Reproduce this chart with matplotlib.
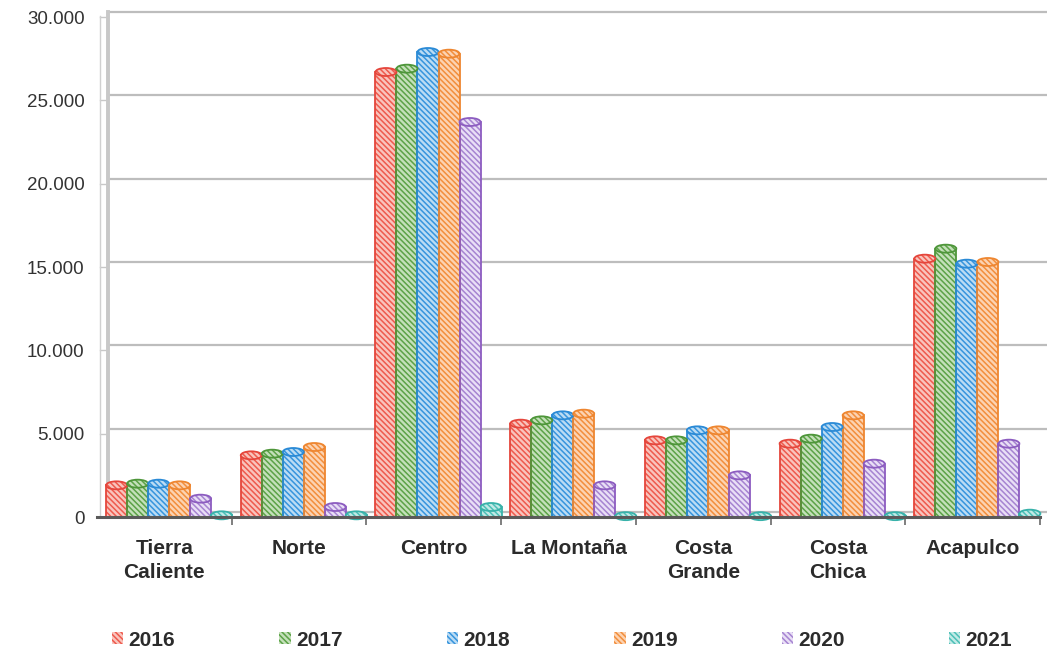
import matplotlib
matplotlib.use('Agg')
import matplotlib.pyplot as plt
import matplotlib.transforms as mtransforms
from matplotlib.patches import Ellipse, Patch
from matplotlib.ticker import FuncFormatter

plt.rcParams['font.family'] = ['Liberation Sans', 'DejaVu Sans']
plt.rcParams['hatch.linewidth'] = 1.1

# ── Data ─────────────────────────────────────────────────────────────────────
REGIONS = ['Tierra\nCaliente', 'Norte', 'Centro', 'La Montaña',
           'Costa\nGrande', 'Costa\nChica', 'Acapulco']
YEARS = ['2016', '2017', '2018', '2019', '2020', '2021']

V2016 = [1900, 3700, 26700, 5600, 4600, 4400, 15500]
V2017 = [2000, 3800, 26900, 5800, 4600, 4700, 16100]
V2018 = [2000, 3900, 27900, 6100, 5200, 5400, 15200]
V2019 = [1900, 4200, 27800, 6200, 5200, 6100, 15300]
V2020 = [1100, 600, 23700, 1900, 2500, 3200, 4400]
V2021 = [100, 100, 600, 50, 50, 50, 200]
SERIES = [V2016, V2017, V2018, V2019, V2020, V2021]

Y_TICKS = [0, 5000, 10000, 15000, 20000, 25000, 30000]

# outline colour, stripe colour, light face between stripes
STYLES = [
    ('#E5463C', '#EE5A4D', '#F9C4BD'),
    ('#4E963A', '#5CA247', '#C4E0BA'),
    ('#2A8AD6', '#3694DD', '#BBDCF4'),
    ('#EE8630', '#F28E3C', '#FCD3B2'),
    ('#8C5CC0', '#A684D1', '#E9DFF6'),
    ('#38B2AA', '#4CBFB7', '#C2EAE6'),
]
HATCH = '\\' * 6

BAR_W = 0.156
GROUP_SHIFT = 0.035
CAP_H = 480          # cylinder cap height in data units

fig = plt.figure(figsize=(10.47, 6.55), dpi=100)
ax = fig.add_axes([97 / 1047, 1 - 517 / 655, 943 / 1047, 500 / 655])
ax.set_xlim(-0.5, len(REGIONS) - 0.5)
ax.set_ylim(0, 30000)

# back wall: gridlines sit a few pixels higher than the floor edge
back = ax.get_yaxis_transform() + mtransforms.ScaledTranslation(0, 0.05, fig.dpi_scale_trans)
side = ax.get_yaxis_transform() + mtransforms.ScaledTranslation(0, 0.01, fig.dpi_scale_trans)
wall_x = 11 / 943
side_x = 3 / 943
for t in Y_TICKS:
    ax.plot([wall_x, 1.008], [t, t], transform=back, color='#BDBDBD', lw=1.6,
            zorder=1, clip_on=False, solid_capstyle='butt')
    ax.plot([side_x, wall_x], [t, t], color='#C8C8C8', lw=1.0, zorder=1,
            clip_on=False, transform=mtransforms.blended_transform_factory(ax.transAxes, ax.transData))
ax.plot([wall_x, wall_x], [0, 30000], transform=back, color='#C8C8C8', lw=2.8,
        zorder=1, clip_on=False)
ax.plot([side_x, side_x], [0, 30000], transform=side, color='#D0D0D0', lw=1.0,
        zorder=1, clip_on=False)


def cylinder(x, v, outline, stripe, face):
    z = 2.3
    # hatched body
    ax.bar(x, v, BAR_W, facecolor=face, edgecolor=stripe, hatch=HATCH,
           linewidth=0, zorder=z)
    ax.bar(x, v, BAR_W, fill=False, edgecolor=outline, linewidth=1.3, zorder=z + 0.01)
    # rounded top cap
    ax.add_patch(Ellipse((x, v), BAR_W, CAP_H, facecolor=face, edgecolor=stripe,
                         hatch=HATCH, linewidth=0, zorder=z + 0.02, clip_on=False))
    ax.add_patch(Ellipse((x, v), BAR_W, CAP_H, fill=False, edgecolor=outline,
                         linewidth=1.3, zorder=z + 0.03, clip_on=False))


for i, (vals, (outline, stripe, face)) in enumerate(zip(SERIES, STYLES)):
    offset = (i - (len(SERIES) - 1) / 2) * BAR_W + GROUP_SHIFT
    for j, v in enumerate(vals):
        cylinder(j + offset, v, outline, stripe, face)

# axes styling
for s in ('top', 'right', 'left'):
    ax.spines[s].set_visible(False)
ax.spines['bottom'].set_color('#5A5A5A')
ax.spines['bottom'].set_linewidth(2.2)
ax.spines['bottom'].set_zorder(2.5)

ax.set_xticks(range(len(REGIONS)))
ax.set_xticklabels(REGIONS, fontsize=15, fontweight='bold', color='#2B2B2B',
                   linespacing=1.3, va='top')
ax.set_xticks([k + 0.5 for k in range(len(REGIONS))], minor=True)
ax.tick_params(axis='x', which='major', length=0, pad=16)
ax.tick_params(axis='x', which='minor', length=6, width=1.2, color='#6A6A6A')

ax.set_yticks(Y_TICKS)
ax.yaxis.set_major_formatter(FuncFormatter(lambda v, p: f'{int(v):,}'.replace(',', '.')))
ax.tick_params(axis='y', length=0, pad=9, labelsize=13.5, labelcolor='#333333')

# legend
handles = [Patch(facecolor=face, edgecolor=stripe, hatch=HATCH, linewidth=0)
           for _, stripe, face in STYLES]
fig.legend(handles, YEARS, loc='center', bbox_to_anchor=(562 / 1047, 1 - 640 / 655),
           ncol=6, frameon=False, handlelength=0.55, handleheight=0.55,
           handletextpad=0.25, columnspacing=5.0,
           prop={'size': 15, 'weight': 'bold'}, labelcolor='#2B2B2B')

fig.savefig('out.png', dpi=100, facecolor='white')
